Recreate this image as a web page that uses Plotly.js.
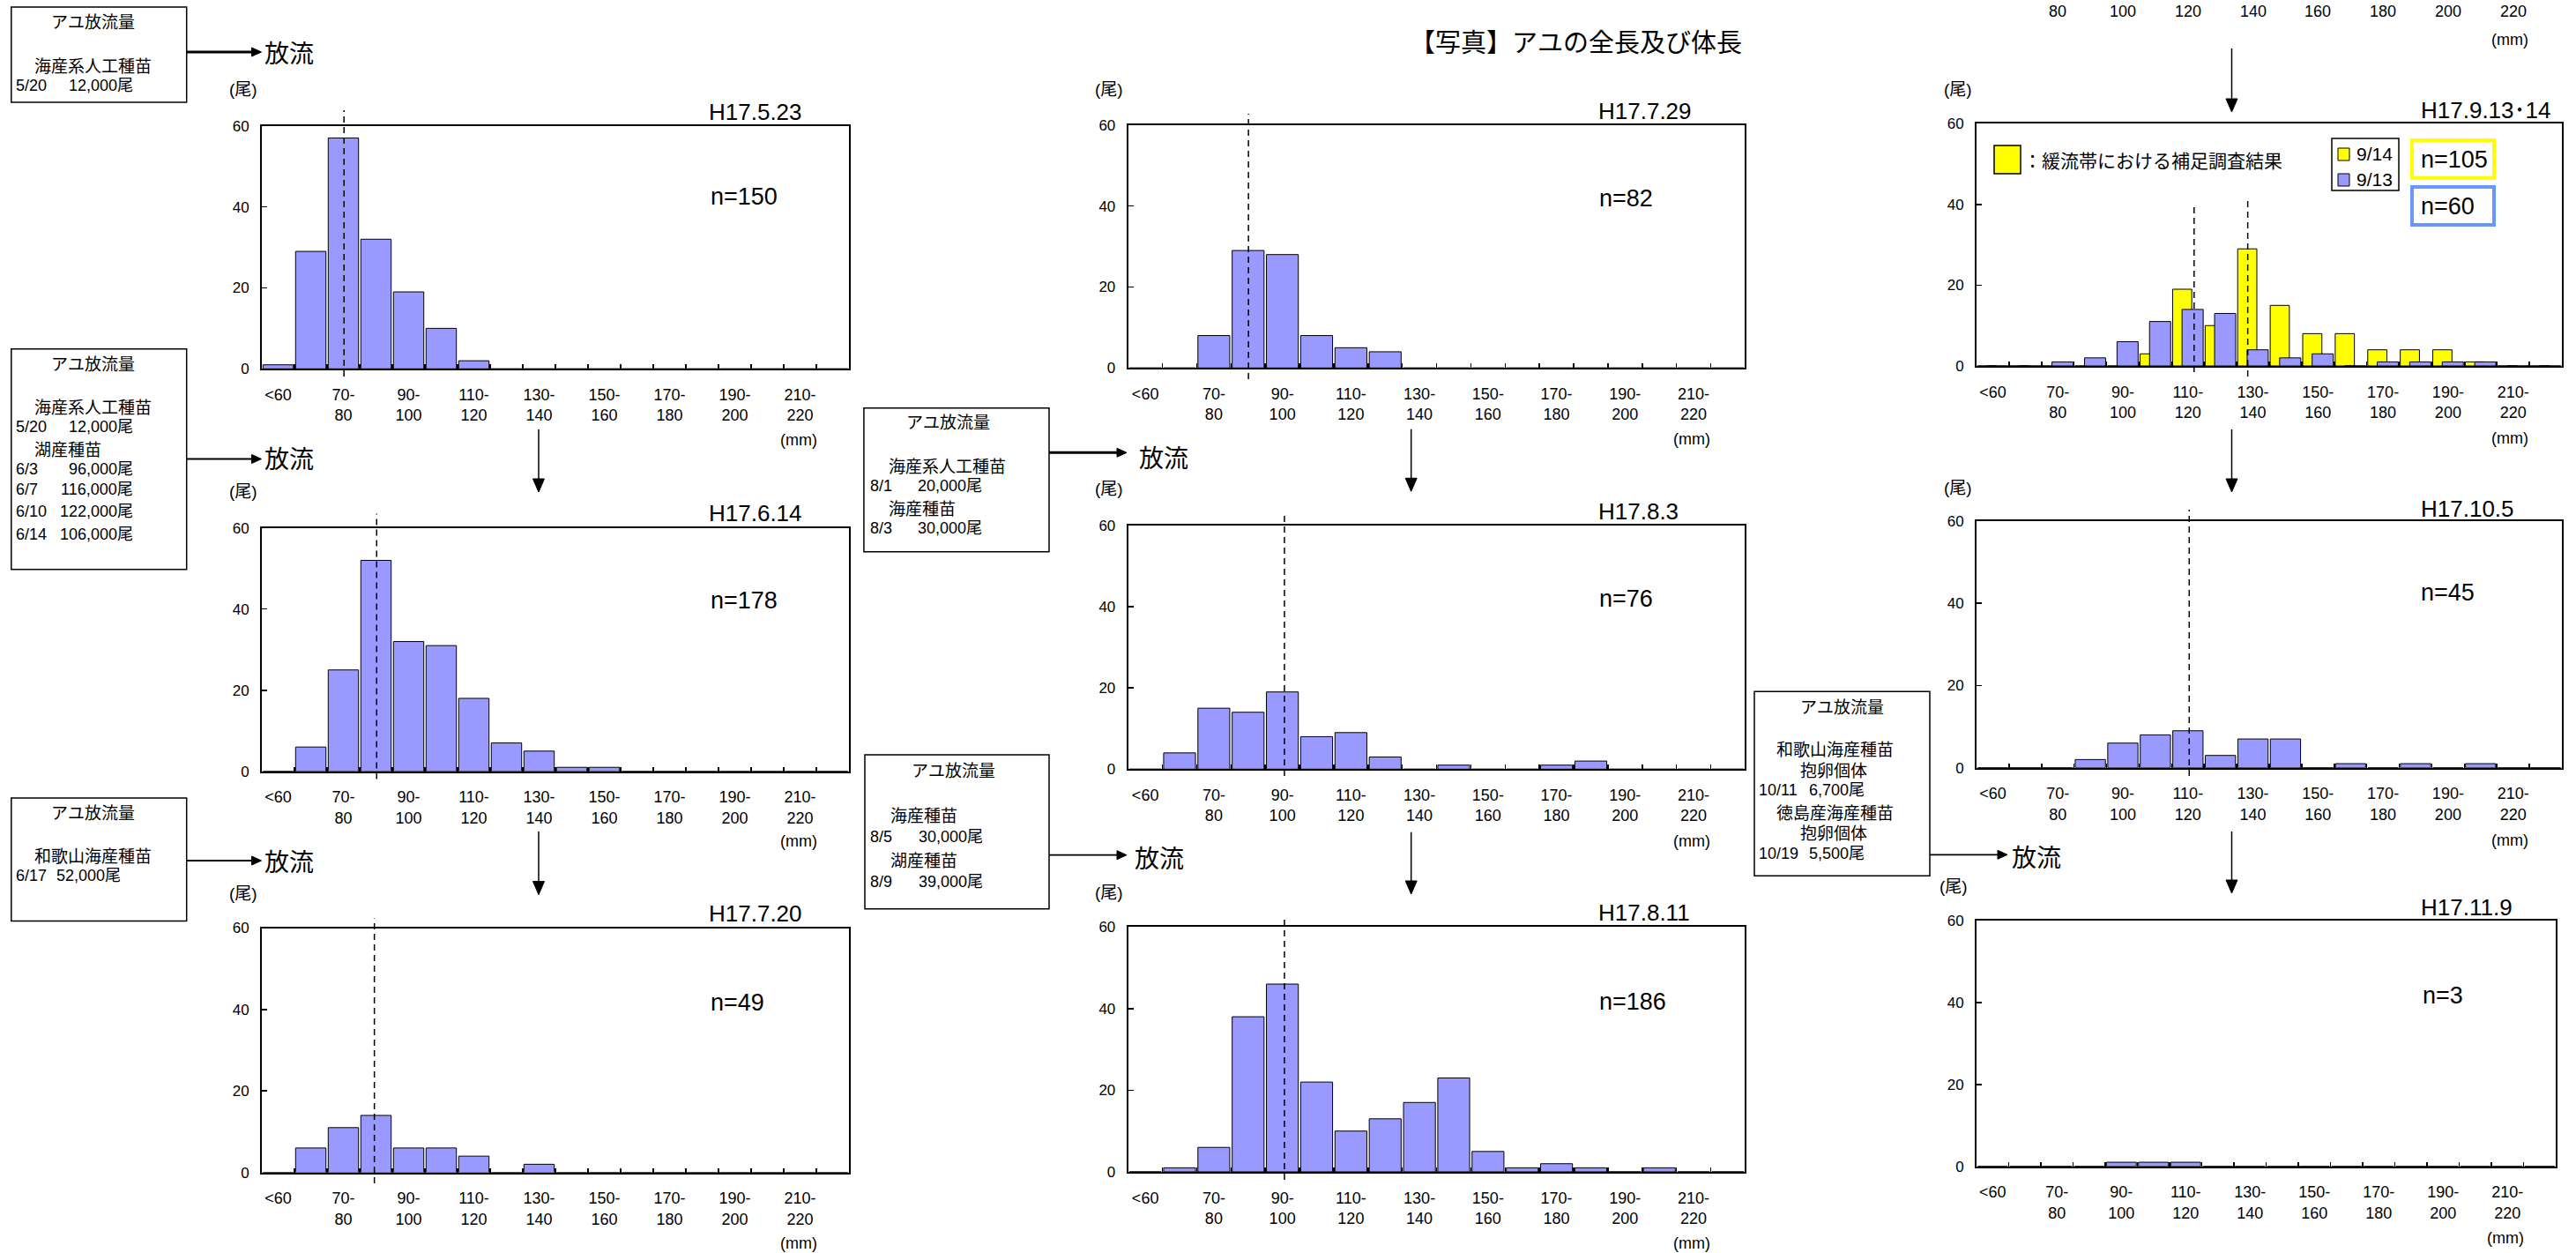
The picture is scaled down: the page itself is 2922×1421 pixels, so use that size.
<!DOCTYPE html>
<html><head><meta charset="utf-8">
<script src="https://cdn.plot.ly/plotly-3.0.1.min.js"></script>
<style>html,body{margin:0;padding:0;background:#fff}#chart{width:2922px;height:1421px}</style>
</head><body><div id="chart"></div>
<script>
// ---------------- DATA ----------------
const binNames = ['<60','60-70','70-80','80-90','90-100','100-110','110-120','120-130','130-140','140-150','150-160','160-170','170-180','180-190','190-200','200-210','210-220','220-'];
const labelBins = [0,2,4,6,8,10,12,14,16];
const labelText = ['&lt;60','70-<br>80','90-<br>100','110-<br>120','130-<br>140','150-<br>160','170-<br>180','190-<br>200','210-<br>220'];
const labelSecondLine = ['80','100','120','140','160','180','200','220'];
const boundaryTicks = [0.5,1.5,2.5,3.5,4.5,5.5,6.5,7.5,8.5,9.5,10.5,11.5,12.5,13.5,14.5,15.5,16.5];

const countsH17_05_23 = [1,29,57,32,19,10,2,0,0,0,0,0,0,0,0,0,0,0];
const countsH17_06_14 = [0,6,25,52,32,31,18,7,5,1,1,0,0,0,0,0,0,0];
const countsH17_07_20 = [0,6,11,14,6,6,4,0,2,0,0,0,0,0,0,0,0,0];
const countsH17_07_29 = [0,0,8,29,28,8,5,4,0,0,0,0,0,0,0,0,0,0];
const countsH17_08_03 = [0,4,15,14,19,8,9,3,0,1,0,0,1,2,0,0,0,0];
const countsH17_08_11 = [0,1,6,38,46,22,10,13,17,23,5,1,2,1,0,1,0,0];
const countsH17_09_14 = [0,0,0,0,0,3,19,10,29,15,8,8,4,4,4,1,0,0];
const countsH17_09_13 = [0,0,1,2,6,11,14,13,4,2,3,0,1,1,1,1,0,0];
const countsH17_10_05 = [0,0,0,2,6,8,9,3,7,7,0,1,0,1,0,1,0,0];
const countsH17_11_09 = [0,0,0,0,1,1,1,0,0,0,0,0,0,0,0,0,0,0];

const panelTitles = ['H17.5.23','H17.6.14','H17.7.20','H17.7.29','H17.8.3','H17.8.11','H17.9.13･14','H17.10.5','H17.11.9'];
const panelN = ['n=150','n=178','n=49','n=82','n=76','n=186','','n=45','n=3'];
const meanBin = [[2.02],[3.02],[2.95],[3.01],[4.06],[4.06],[6.19,7.84],[6.04],[]];
const seriesNames = ['9/14','9/13'];
const seriesN = ['n=105','n=60'];

const box1Lines = ['アユ放流量','海産系人工種苗',['5/20','12,000尾']];
const box2Lines = ['アユ放流量','海産系人工種苗',['5/20','12,000尾'],'湖産種苗',['6/3','96,000尾'],['6/7','116,000尾'],['6/10','122,000尾'],['6/14','106,000尾']];
const box3Lines = ['アユ放流量','和歌山海産種苗',['6/17','52,000尾']];
const box4Lines = ['アユ放流量','海産系人工種苗',['8/1','20,000尾'],'海産種苗',['8/3','30,000尾']];
const box5Lines = ['アユ放流量','海産種苗',['8/5','30,000尾'],'湖産種苗',['8/9','39,000尾']];
const box6Lines = ['アユ放流量','和歌山海産種苗','抱卵個体',['10/11','6,700尾'],'徳島産海産種苗','抱卵個体',['10/19','5,500尾']];

// ---------------- LAYOUT HELPERS ----------------
const W = 2922, H = 1421;
const px = x => x / W;
const py = y => 1 - y / H;
const FONT = '"Liberation Sans", Arial, "Noto Sans CJK JP", sans-serif';
const JFONT = '"Noto Sans CJK JP", "Liberation Sans", sans-serif';
const BLUE = '#9999FF', YEL = '#FFFF00';

// panel pixel boxes [L, R, T, B]
const geo = [
  [297, 963, 142.7, 418.3],
  [297, 963, 598.7, 874.8],
  [297, 963, 1052.5, 1329.6],
  [1279.7, 1979.4, 141.7, 417.3],
  [1279.7, 1979.4, 595.7, 872.3],
  [1279.7, 1979.4, 1051.2, 1329],
  [2242, 2906, 140.3, 415],
  [2242, 2906, 591, 870.7],
  [2242, 2899, 1044.3, 1322.7]
];
const countsList = [countsH17_05_23, countsH17_06_14, countsH17_07_20, countsH17_07_29, countsH17_08_03, countsH17_08_11, null, countsH17_10_05, countsH17_11_09];
const dashY = [[[125,427]],[[582.5,883.4]],[[1041.5,1342]],[[129,430]],[[580,880]],[[1038,1338]],[[232,422],[227,427]],[[578,880]],[]];
const unitPos = [[276,102],[276,557],[276,1013],[1258,101.5],[1258,555],[1258,1012],[2221,102],[2221,553],[2215.5,1005.5]];
const titlePos = [[802,127],[802,581.5],[802,1036],[1811,126],[1811,580],[1811,1035],[2744,125],[2744,577],[2744,1029]];
const nPos = [[803.6,223],[803.6,681],[803.6,1137],[1812,225],[1812,679],[1812,1136],null,[2744,672],[2746,1128.5]];
const mmPos = [[906,499],[906,954],[906,1409.5],[1919,498],[1919,954],[1919,1409.5],[2847,496.5],[2847,952.5],[2842,1404]];

const xs = binNames.map((_, i) => i);
const traces = [];
const layout = {
  width: W, height: H, margin: {l:0, r:0, t:0, b:0},
  paper_bgcolor: '#fff', plot_bgcolor: '#fff',
  showlegend: false, barmode: 'overlay',
  font: {family: FONT, color: '#000'},
  annotations: [], shapes: []
};
const ann = layout.annotations, shp = layout.shapes;

function txt(t, x, y, size, xanchor, fam, extra) {
  ann.push(Object.assign({text: t, x: px(x), y: py(y), xref: 'paper', yref: 'paper', showarrow: false,
    xanchor: xanchor || 'center', yanchor: 'middle', font: {size: size, family: fam || FONT, color: '#000'}}, extra || {}));
}
function rect(x0, y0, x1, y1, col, w, fill) {
  shp.push({type: 'rect', xref: 'paper', yref: 'paper', x0: px(x0), x1: px(x1), y0: py(y1), y1: py(y0),
    line: {color: col, width: w}, fillcolor: fill || 'rgba(0,0,0,0)'});
}
function hArrow(x0, x1, y, w) {
  const hl = 11, hw = 5;
  shp.push({type: 'line', xref: 'paper', yref: 'paper', x0: px(x0), x1: px(x1 - hl + 1), y0: py(y), y1: py(y), line: {color: '#000', width: w}});
  shp.push({type: 'path', xref: 'paper', yref: 'paper', fillcolor: '#000', line: {color: '#000', width: 1},
    path: `M${px(x1)},${py(y)} L${px(x1 - hl)},${py(y - hw)} L${px(x1 - hl)},${py(y + hw)} Z`});
}
function vArrow(x, y0, y1) {
  const hl = 15, hw = 6.5;
  shp.push({type: 'line', xref: 'paper', yref: 'paper', x0: px(x), x1: px(x), y0: py(y0), y1: py(y1 - hl + 1), line: {color: '#000', width: 1.5}});
  shp.push({type: 'path', xref: 'paper', yref: 'paper', fillcolor: '#000', line: {color: '#000', width: 1},
    path: `M${px(x)},${py(y1)} L${px(x - hw)},${py(y1 - hl)} L${px(x + hw)},${py(y1 - hl)} Z`});
}

// ---------------- PANELS ----------------
geo.forEach((g, k) => {
  const i = k + 1, [L, R, T, B] = g;
  const xa = 'xaxis' + (i === 1 ? '' : i), ya = 'yaxis' + (i === 1 ? '' : i);
  layout[xa] = {
    domain: [px(L), px(R)], anchor: 'y' + i, range: [-0.5, 17.5], fixedrange: true,
    showgrid: false, zeroline: false, showline: true, linecolor: '#000', linewidth: 2, mirror: true,
    tickmode: 'array', tickvals: labelBins, ticktext: labelText, ticks: '',
    tickfont: {size: 18, family: FONT, color: '#000'}, ticklabelstandoff: 12,
    minor: {tickmode: 'array', tickvals: boundaryTicks, ticks: 'inside', ticklen: 5, tickwidth: 1.5, tickcolor: '#000', showgrid: false}
  };
  layout[ya] = {
    domain: [py(B), py(T)], anchor: 'x' + i, range: [0, 60], fixedrange: true,
    showgrid: false, zeroline: false, showline: true, linecolor: '#000', linewidth: 2, mirror: true,
    tickmode: 'array', tickvals: [0, 20, 40, 60], ticks: 'inside', ticklen: 6, tickwidth: 1.5, tickcolor: '#000',
    tickfont: {size: 17, family: FONT, color: '#000'}, ticklabelstandoff: 9
  };
  if (countsList[k]) {
    traces.push({type: 'bar', x: xs, y: countsList[k], xaxis: 'x' + i, yaxis: 'y' + i, width: 0.93,
      marker: {color: BLUE, line: {color: '#000', width: 1}}, name: panelTitles[k], hoverinfo: 'x+y'});
  } else {
    traces.push({type: 'bar', x: xs, y: countsH17_09_14, xaxis: 'x' + i, yaxis: 'y' + i, width: 0.59, offset: -0.47,
      marker: {color: YEL, line: {color: '#000', width: 1}}, name: seriesNames[0]});
    traces.push({type: 'bar', x: xs, y: countsH17_09_13, xaxis: 'x' + i, yaxis: 'y' + i, width: 0.65, offset: -0.18,
      marker: {color: BLUE, line: {color: '#000', width: 1}}, name: seriesNames[1]});
  }
  meanBin[k].forEach((m, j) => {
    shp.push({type: 'line', xref: 'x' + i, yref: 'paper', x0: m, x1: m, y0: py(dashY[k][j][1]), y1: py(dashY[k][j][0]),
      line: {color: '#000', width: 1.5, dash: '7px,5px'}});
  });
  txt('(尾)', unitPos[k][0], unitPos[k][1], 19, 'center');
  txt(panelTitles[k], titlePos[k][0], titlePos[k][1], 26, 'left');
  if (nPos[k]) txt(panelN[k], nPos[k][0], nPos[k][1], 27, 'left');
  txt('(mm)', mmPos[k][0], mmPos[k][1], 18, 'center');
});

// panel 7 extras: key, legend box, n boxes
rect(2262, 165, 2292, 197, '#000', 1.5, YEL);
txt('：緩流帯における補足調査結果', 2293, 181, 21, 'left', JFONT);
rect(2645, 157, 2721, 216, '#000', 1.5, '#fff');
rect(2652, 168, 2665, 182, '#000', 1, YEL);
rect(2652, 197, 2665, 211, '#000', 1, BLUE);
txt(seriesNames[0], 2671, 175, 21, 'left');
txt(seriesNames[1], 2671, 204, 21, 'left');
rect(2736, 159, 2829, 202, YEL, 4, '#fff');
rect(2736, 212, 2829, 255, '#6699FF', 4, '#fff');
txt(seriesN[0], 2744, 181, 27, 'left');
txt(seriesN[1], 2744, 233.5, 27, 'left');

// cut-off labels of the panel above panel 7
labelSecondLine.forEach((t, j) => {
  ann.push({text: t, x: labelBins[j + 1], y: py(13.5), xref: 'x7', yref: 'paper', showarrow: false,
    xanchor: 'center', yanchor: 'middle', font: {size: 18, family: FONT, color: '#000'}});
});
txt('(mm)', 2847, 45, 18, 'center');

// main title
txt('【写真】アユの全長及び体長', 1978, 45.5, 29, 'right', JFONT);

// ---------------- BOXES ----------------
function box(lines, x0, y0, x1, y1, ys, cx, indent, dateX, amtRight) {
  rect(x0, y0, x1, y1, '#000', 1.5, '#fff');
  lines.forEach((ln, j) => {
    if (Array.isArray(ln)) {
      txt(ln[0], dateX, ys[j], 18, 'left');
      txt(ln[1], amtRight, ys[j], 18, 'right');
    } else if (j === 0) {
      txt(ln, cx, ys[j], 19, 'left', JFONT);
    } else {
      txt(ln, indent[j] || indent[1], ys[j], 19, 'left', JFONT);
    }
  });
}
box(box1Lines, 12.8, 8, 211.7, 116, [23.3, 73.3, 96.7], 56, [0, 37], 16, 153);
box(box2Lines, 12.8, 395.8, 211.7, 645.8, [411.7, 460.2, 484.3, 508.4, 531.5, 555, 579.7, 605.5], 56, [0, 37, 0, 37], 16, 153);
box(box3Lines, 12.8, 905, 211.7, 1044.6, [920.4, 969, 993.2], 56, [0, 37], 16, 139);
box(box4Lines, 979.9, 462.7, 1190, 625.7, [477.3, 527.7, 551, 575, 599.3], 1026.3, [0, 1006.4, 0, 1006.4], 984.5, 1116);
box(box5Lines, 981, 856, 1190, 1030.8, [872.6, 923.4, 949.3, 974, 1000], 1031.6, [0, 1007.8, 0, 1007.8], 985, 1117);
box(box6Lines, 1990, 784.3, 2189, 993.3, [800, 848.3, 872.3, 896, 920, 943.3, 968.3], 2040, [0, 2013, 2040, 0, 2013, 2040], 1993.2, 2117);

// release arrows and labels
hArrow(212, 296.5, 59, 3);      txt('放流', 298, 59, 28, 'left', JFONT);
hArrow(212, 296.5, 520.5, 2);   txt('放流', 298, 519, 28, 'left', JFONT);
hArrow(212, 296.5, 976, 2);     txt('放流', 298, 976, 28, 'left', JFONT);
hArrow(1190, 1278, 513.3, 3);   txt('放流', 1290, 517.5, 28, 'left', JFONT);
hArrow(1190, 1278, 969.7, 1.8); txt('放流', 1285, 971.5, 28, 'left', JFONT);
hArrow(2189, 2277, 969.3, 1.7); txt('放流', 2280, 971, 28, 'left', JFONT);

// downward arrows between panels
vArrow(611, 487, 558);
vArrow(611, 943, 1014.6);
vArrow(1600.7, 486.7, 557.3);
vArrow(1600.7, 943.7, 1014);
vArrow(2531.5, 55, 127);
vArrow(2531.5, 487, 558);
vArrow(2531.5, 943, 1013);

Plotly.newPlot('chart', traces, layout, {displayModeBar: false, staticPlot: true});
</script></body></html>
